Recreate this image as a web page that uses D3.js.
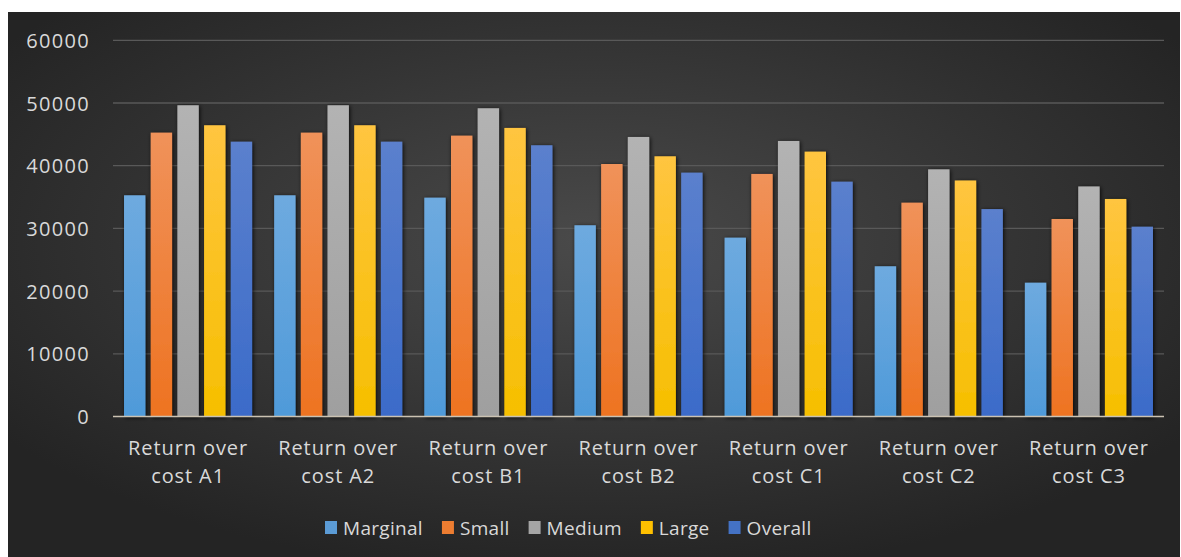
<!DOCTYPE html>
<html>
<head>
<meta charset="utf-8">
<script src="https://cdn.jsdelivr.net/npm/d3@7/dist/d3.min.js"></script>
<style>
  html, body { margin: 0; padding: 0; background: #ffffff; }
  svg { display: block; }
  text { font-family: "Open Sans", "Noto Sans", sans-serif; }
</style>
</head>
<body>
<svg id="chart" width="1181" height="557"></svg>
<script>
// Return over cost by farm size
const categories = [
  ["Return over", "cost A1"],
  ["Return over", "cost A2"],
  ["Return over", "cost B1"],
  ["Return over", "cost B2"],
  ["Return over", "cost C1"],
  ["Return over", "cost C2"],
  ["Return over", "cost C3"]
];
const seriesNames = ["Marginal", "Small", "Medium", "Large", "Overall"];
const marginal = [35280, 35280, 34900, 30500, 28520, 23960, 21340];
const small    = [45270, 45270, 44790, 40270, 38680, 34100, 31500];
const medium   = [49640, 49640, 49160, 44580, 43940, 39420, 36690];
const large    = [46450, 46450, 46020, 41500, 42240, 37640, 34690];
const overall  = [43830, 43830, 43260, 38890, 37450, 33080, 30270];
const yTicks = [0, 10000, 20000, 30000, 40000, 50000, 60000];

const seriesValues = [marginal, small, medium, large, overall];
// top / bottom colours of each series' gradient fill
const colors = [
  ["#6eaadf", "#4f9ad9"],
  ["#f0925a", "#ee7321"],
  ["#b3b3b3", "#9f9f9f"],
  ["#ffc540", "#f6bf00"],
  ["#5b80cd", "#3b6bc9"]
];
const legendColors = ["#5b9bd5", "#ed7d31", "#a5a5a5", "#ffc000", "#4472c4"];

const svg = d3.select("#chart");
const defs = svg.append("defs");

// chart area background with a soft lighter centre
const bg = defs.append("radialGradient").attr("id", "bgGrad")
  .attr("cx", "50%").attr("cy", "42%").attr("r", "62%");
bg.append("stop").attr("offset", "0%").attr("stop-color", "#4a4a4a");
bg.append("stop").attr("offset", "100%").attr("stop-color", "#242424");

colors.forEach((c, i) => {
  const g = defs.append("linearGradient").attr("id", "barGrad" + i)
    .attr("x1", 0).attr("y1", 0).attr("x2", 0).attr("y2", 1);
  g.append("stop").attr("offset", "0%").attr("stop-color", c[0]);
  g.append("stop").attr("offset", "100%").attr("stop-color", c[1]);
});

const shadow = defs.append("filter").attr("id", "barShadow")
  .attr("x", "-40%").attr("y", "-10%").attr("width", "180%").attr("height", "120%");
shadow.append("feDropShadow").attr("dx", 1).attr("dy", 1)
  .attr("stdDeviation", 2.2).attr("flood-color", "#000").attr("flood-opacity", 0.85);

svg.append("rect")
  .attr("x", 8).attr("y", 12).attr("width", 1172).attr("height", 545)
  .attr("fill", "url(#bgGrad)");

const plotLeft = 113, plotRight = 1164;
const x0 = d3.scaleBand()
  .domain(d3.range(categories.length))
  .range([plotLeft, plotRight])
  .paddingInner(0.147).paddingOuter(0.0735);
const x1 = d3.scaleBand()
  .domain(d3.range(seriesNames.length))
  .range([0, x0.bandwidth()])
  .paddingInner(0.2).paddingOuter(0);
const y = d3.scaleLinear().domain([0, 60000]).range([416.5, 40.3]);

// gridlines
svg.append("g").selectAll("line")
  .data(yTicks.filter(t => t > 0))
  .join("line")
  .attr("x1", plotLeft).attr("x2", plotRight)
  .attr("y1", d => y(d)).attr("y2", d => y(d))
  .attr("stroke", "#595959").attr("stroke-width", 1.3);

// y axis labels
const yAxis = d3.axisLeft(y).tickValues(yTicks).tickSize(0).tickPadding(0)
  .tickFormat(d3.format("d"));
const yg = svg.append("g").attr("transform", "translate(90,0)").call(yAxis);
yg.select(".domain").remove();
yg.selectAll("text")
  .attr("fill", "#d9d9d9").attr("font-size", 20).attr("letter-spacing", 1.3)
  .attr("font-family", "\"Open Sans\", sans-serif")
  .attr("dy", "0.35em");

// bars
const groups = svg.append("g").selectAll("g")
  .data(categories.map((c, i) => i))
  .join("g")
  .attr("transform", i => `translate(${x0(i)},0)`);
groups.selectAll("rect")
  .data(i => seriesValues.map((vals, s) => ({ s, v: vals[i] })))
  .join("rect")
  .attr("x", d => x1(d.s))
  .attr("width", x1.bandwidth())
  .attr("y", d => y(d.v))
  .attr("height", d => y(0) - y(d.v))
  .attr("fill", d => `url(#barGrad${d.s})`)
  .attr("filter", "url(#barShadow)");

// category axis line
svg.append("line")
  .attr("x1", plotLeft).attr("x2", plotRight)
  .attr("y1", y(0)).attr("y2", y(0))
  .attr("stroke", "#cbc2b2").attr("stroke-width", 1.6);

// category labels
const xl = svg.append("g").selectAll("text")
  .data(categories)
  .join("text")
  .attr("text-anchor", "middle")
  .attr("fill", "#d9d9d9").attr("font-size", 20).attr("letter-spacing", 0.9)
  .attr("transform", (d, i) => `translate(${x0(i) + x0.bandwidth() / 2},0)`);
xl.selectAll("tspan")
  .data(d => d)
  .join("tspan")
  .attr("x", 0)
  .attr("y", (d, j) => 455 + j * 28)
  .text(d => d);

// legend
const legend = svg.append("g").attr("transform", "translate(325,528)");
let lx = 0;
seriesNames.forEach((name, i) => {
  const item = legend.append("g").attr("transform", `translate(${lx},0)`);
  item.append("rect").attr("x", 0).attr("y", -7).attr("width", 12).attr("height", 13)
    .attr("fill", legendColors[i]);
  const t = item.append("text").attr("x", 18).attr("y", 0).attr("dy", "0.35em")
    .attr("fill", "#d9d9d9").attr("font-size", 19).attr("letter-spacing", 0.3)
    .text(name);
  lx += 18 + t.node().getComputedTextLength() + 19;
});
</script>
</body>
</html>
